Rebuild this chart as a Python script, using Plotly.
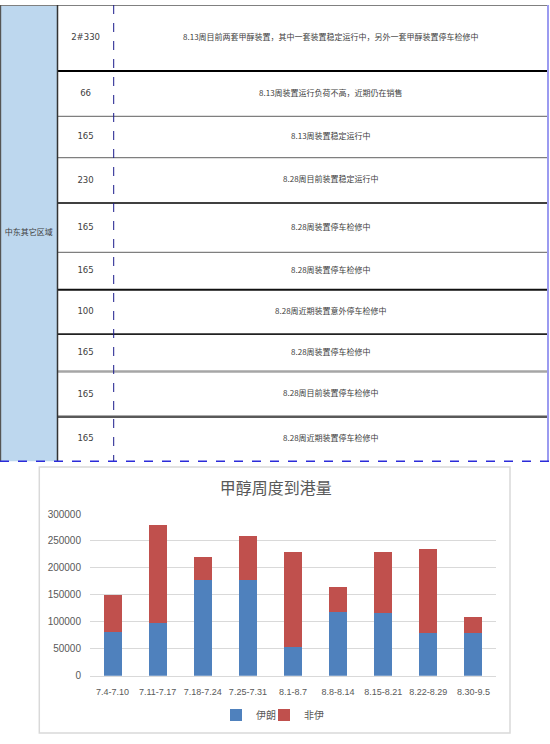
import plotly.graph_objects as go

# ---------------- data ----------------
region_label = "中东其它区域"
capacities = ["2#330", "66", "165", "230", "165", "165", "100", "165", "165", "165"]
notes = [
    "8.13周目前两套甲醇装置，其中一套装置稳定运行中，另外一套甲醇装置停车检修中",
    "8.13周装置运行负荷不高，近期仍在销售",
    "8.13周装置稳定运行中",
    "8.28周目前装置稳定运行中",
    "8.28周装置停车检修中",
    "8.28周装置停车检修中",
    "8.28周近期装置意外停车检修中",
    "8.28周装置停车检修中",
    "8.28周目前装置停车检修中",
    "8.28周近期装置停车检修中",
]

weeks = ["7.4-7.10", "7.11-7.17", "7.18-7.24", "7.25-7.31", "8.1-8.7",
         "8.8-8.14", "8.15-8.21", "8.22-8.29", "8.30-9.5"]
iran = [81000, 97000, 177000, 177000, 53000, 118000, 117000, 80000, 80000]
non_iran = [69000, 183000, 43000, 83000, 177000, 47000, 113000, 155000, 28000]
y_ticks = [0, 50000, 100000, 150000, 200000, 250000, 300000]

# ---------------- layout sizes ----------------
W, H = 550, 744
row_heights = [67, 46, 42, 46, 50, 38, 45, 38, 46, 45]
col_edges = [0, 57.5, 113.7, 548]
boundary_styles = [
    ("#000000", 2), ("#7f7f7f", 1.2), ("#7f7f7f", 1.2), ("#000000", 1.5),
    ("#7f7f7f", 1.2), ("#111111", 1.8), ("#222222", 1.8), ("#a6a6a6", 2.5),
    ("#595959", 2.5),
]
table_h = sum(row_heights)
tbl_span = table_h + 3

row_tops = [sum(row_heights[:i]) for i in range(len(row_heights))]
row_centers = [t + h / 2 for t, h in zip(row_tops, row_heights)]

BLUE = "#4F81BD"
RED = "#C0504D"
TXT = "#404040"

fig = go.Figure()

# ---------------- chart ----------------
fig.add_trace(go.Bar(x=weeks, y=iran, name="伊朗", marker=dict(color=BLUE, line=dict(width=0)),
                     width=0.4, xaxis="x", yaxis="y", legend="legend"))
fig.add_trace(go.Bar(x=weeks, y=non_iran, name="非伊", marker=dict(color=RED, line=dict(width=0)),
                     width=0.4, xaxis="x", yaxis="y", legend="legend2"))

# ---------------- table text ----------------
cx2 = (col_edges[1] + col_edges[2]) / 2
cx3 = (col_edges[2] + col_edges[3]) / 2
fig.add_trace(go.Scatter(
    x=[cx2] * len(capacities), y=row_centers, text=capacities, mode="text",
    textfont=dict(family="Liberation Sans Narrow, DejaVu Sans Condensed, Liberation Sans", size=9.5, color=TXT),
    xaxis="x2", yaxis="y2", showlegend=False, hoverinfo="skip"))
fig.add_trace(go.Scatter(
    x=[cx3] * len(notes), y=row_centers, text=notes, mode="text",
    textfont=dict(family="Liberation Sans Narrow, Noto Sans CJK SC", size=8, color=TXT),
    xaxis="x2", yaxis="y2", showlegend=False, hoverinfo="skip"))
fig.add_trace(go.Scatter(
    x=[col_edges[1] / 2], y=[table_h / 2], text=[region_label], mode="text",
    textfont=dict(family="Noto Sans CJK SC", size=8, color=TXT),
    xaxis="x2", yaxis="y2", showlegend=False, hoverinfo="skip"))

shapes = []
# left column fill
shapes.append(dict(type="rect", xref="x2", yref="y2", x0=col_edges[0], x1=col_edges[1],
                   y0=0, y1=table_h, fillcolor="#BDD7EE", line=dict(width=0), layer="below"))
# row boundaries
for i, (c, w) in enumerate(boundary_styles):
    yb = sum(row_heights[: i + 1])
    shapes.append(dict(type="line", xref="x2", yref="y2", x0=col_edges[1], x1=col_edges[3],
                       y0=yb, y1=yb, line=dict(color=c, width=w)))
# top border
shapes.append(dict(type="line", xref="x2", yref="y2", x0=col_edges[0], x1=col_edges[3],
                   y0=0.5, y1=0.5, line=dict(color="#7f7f7f", width=1)))
# vertical lines
shapes.append(dict(type="line", xref="x2", yref="y2", x0=0.6, x1=0.6, y0=0, y1=table_h,
                   line=dict(color="#555555", width=1.2)))
shapes.append(dict(type="line", xref="x2", yref="y2", x0=col_edges[1], x1=col_edges[1], y0=0, y1=table_h,
                   line=dict(color="#333333", width=1.5)))
shapes.append(dict(type="line", xref="x2", yref="y2", x0=col_edges[2], x1=col_edges[2], y0=0, y1=table_h,
                   line=dict(color="#1a1a8c", width=1, dash="dash")))
shapes.append(dict(type="line", xref="x2", yref="y2", x0=col_edges[3], x1=col_edges[3], y0=0, y1=table_h,
                   line=dict(color="#9b9bf0", width=2)))
# bottom dashed border
shapes.append(dict(type="line", xref="x2", yref="y2", x0=0, x1=W, y0=table_h, y1=table_h,
                   line=dict(color="#2b2bd9", width=1.5, dash="dash")))
# chart frame
shapes.append(dict(type="rect", xref="paper", yref="paper", x0=39.3 / W, x1=510 / W,
                   y0=1 - 739 / H, y1=1 - 469 / H, line=dict(color="#d9d9d9", width=1.5),
                   fillcolor="rgba(0,0,0,0)", layer="below"))

legend_common = dict(orientation="h", yanchor="middle", xanchor="left", y=1 - 720.7 / H,
                     font=dict(family="Noto Sans CJK SC", size=10, color="#595959"),
                     itemwidth=30, bgcolor="rgba(0,0,0,0)", borderwidth=0)

fig.update_layout(
    width=W, height=H,
    margin=dict(l=0, r=0, t=0, b=0),
    paper_bgcolor="white", plot_bgcolor="white",
    barmode="stack",
    showlegend=True,
    title=dict(text="甲醇周度到港量", x=275.7 / W, y=1 - 488 / H, xanchor="center", yanchor="middle",
               font=dict(family="Noto Sans CJK SC", size=16, color="#595959")),
    xaxis=dict(domain=[90 / W, 496 / W], tickangle=0, showgrid=False, showline=True,
               linecolor="#d9d9d9", linewidth=1, ticks="",
               tickfont=dict(family="Liberation Sans", size=9, color="#595959"),
               ticklabelstandoff=8, anchor="y"),
    yaxis=dict(domain=[1 - 680.7 / H, 1 - 516.7 / H], range=[0, 300000], tickvals=y_ticks,
               tickformat="d",
               showgrid=True, gridcolor="#d9d9d9", gridwidth=1, zeroline=False, ticks="",
               tickfont=dict(family="Liberation Sans", size=10, color="#595959"),
               ticklabelstandoff=8, anchor="x"),
    xaxis2=dict(domain=[0, 1], range=[0, W], visible=False, anchor="y2"),
    yaxis2=dict(domain=[1 - tbl_span / H, 1], range=[tbl_span, 0], visible=False, anchor="x2"),
    legend=dict(legend_common, x=216 / W),
    legend2=dict(legend_common, x=264 / W),
    shapes=shapes,
)

fig.write_html("out.html", config={"displayModeBar": False},
               post_script="document.body.style.margin='0';document.body.style.overflow='hidden';")
